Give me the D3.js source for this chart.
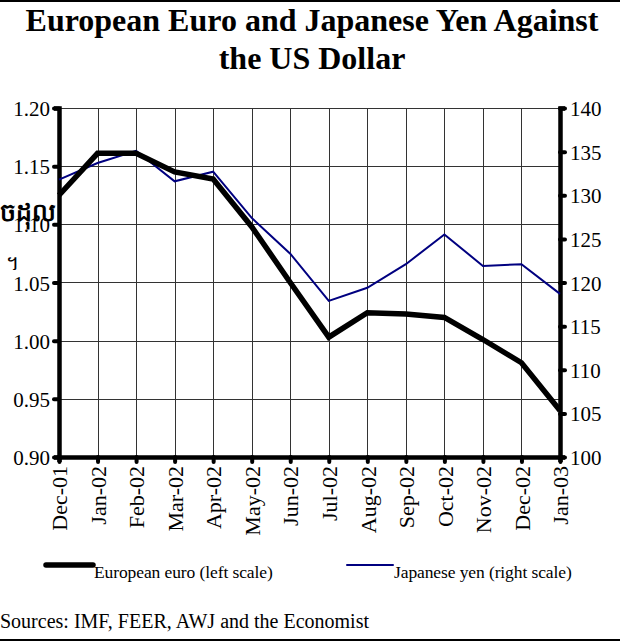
<!DOCTYPE html>
<html>
<head>
<meta charset="utf-8">
<script src="https://cdn.jsdelivr.net/npm/d3@7"></script>
<style>
  body { margin: 0; background: #fff; }
  svg { display: block; font-family: "Liberation Serif", "Times New Roman", serif; }
</style>
</head>
<body>
<svg id="chart" width="620" height="642"></svg>
<script>
// month labels
var months = ["Dec-01", "Jan-02", "Feb-02", "Mar-02", "Apr-02", "May-02", "Jun-02",
  "Jul-02", "Aug-02", "Sep-02", "Oct-02", "Nov-02", "Dec-02", "Jan-03"];
// euro in USD (left scale)
var euro = [1.125, 1.161, 1.161, 1.145, 1.139, 1.098, 1.050,
  1.003, 1.024, 1.023, 1.020, 1.001, 0.981, 0.940];
// yen per USD (right scale)
var yen = [131.8, 133.7, 135.1, 131.6, 132.7, 127.4, 123.3,
  117.9, 119.4, 122.1, 125.5, 121.9, 122.1, 118.7];
var leftTicks = [0.90, 0.95, 1.00, 1.05, 1.10, 1.15, 1.20];
var rightTicks = [100, 105, 110, 115, 120, 125, 130, 135, 140];

var svg = d3.select("#chart");
var plotLeft = 59, plotRight = 560, plotTop = 108, plotBottom = 457;

var x = d3.scalePoint().domain(months).range([plotLeft, plotRight]);
var yL = d3.scaleLinear().domain([0.90, 1.20]).range([plotBottom, plotTop]);
var yR = d3.scaleLinear().domain([100, 140]).range([plotBottom, plotTop]);

// frame lines top and bottom
svg.append("line").attr("x1", 0).attr("x2", 620).attr("y1", 1).attr("y2", 1)
  .attr("stroke", "#000").attr("stroke-width", 2);
svg.append("line").attr("x1", 0).attr("x2", 620).attr("y1", 640).attr("y2", 640)
  .attr("stroke", "#000").attr("stroke-width", 2);

// title
var title = svg.append("text").attr("text-anchor", "middle")
  .attr("font-weight", "bold").attr("font-size", 32);
title.append("tspan").attr("x", 312).attr("y", 31).text("European Euro and Japanese Yen Against");
title.append("tspan").attr("x", 312).attr("y", 69).text("the US Dollar");

// grid
svg.append("g").selectAll("line").data(leftTicks).enter().append("line")
  .attr("x1", plotLeft).attr("x2", plotRight)
  .attr("y1", function (d) { return Math.round(yL(d)) + 0.5; })
  .attr("y2", function (d) { return Math.round(yL(d)) + 0.5; })
  .attr("stroke", "#333").attr("stroke-width", 1);
svg.append("g").selectAll("line").data(months).enter().append("line")
  .attr("x1", function (d) { return Math.round(x(d)) + 0.5; })
  .attr("x2", function (d) { return Math.round(x(d)) + 0.5; })
  .attr("y1", plotTop).attr("y2", plotBottom)
  .attr("stroke", "#333").attr("stroke-width", 1);

// left axis
var gL = svg.append("g").attr("transform", "translate(" + plotLeft + ",0)")
  .call(d3.axisLeft(yL).tickValues(leftTicks).tickFormat(d3.format(".2f")).tickSize(5).tickPadding(4));
// right axis
var gR = svg.append("g").attr("transform", "translate(" + plotRight + ",0)")
  .call(d3.axisRight(yR).tickValues(rightTicks).tickSize(5).tickPadding(5));
// bottom axis
var gB = svg.append("g").attr("transform", "translate(0," + plotBottom + ")")
  .call(d3.axisBottom(x).tickSize(5).tickPadding(6));

[gL, gR, gB].forEach(function (g) {
  g.select(".domain").attr("stroke", "#000").attr("stroke-width", 4.5);
  g.selectAll(".tick line").attr("stroke", "#000").attr("stroke-width", 4)
    .attr("stroke-linecap", "round");
  g.selectAll(".tick text").attr("fill", "#000").attr("font-size", 21)
    .attr("font-family", "Liberation Serif, serif");
});
gL.selectAll(".tick text").attr("dy", "0.36em");
gR.selectAll(".tick text").attr("dy", "0.36em");
gB.selectAll(".tick text")
  .attr("font-size", 22)
  .attr("transform", "rotate(-90)")
  .attr("text-anchor", "end")
  .attr("x", -9).attr("y", 0).attr("dy", "0.35em");

// left axis title fragments
svg.append("text").attr("x", 0).attr("y", 221).attr("font-size", 25)
  .attr("font-weight", "bold").text("ចដុល");
svg.append("text").attr("x", 6).attr("y", 270).attr("font-size", 20).text("។");

// lines
var lineL = d3.line().x(function (d, i) { return x(months[i]); }).y(function (d) { return yL(d); });
var lineR = d3.line().x(function (d, i) { return x(months[i]); }).y(function (d) { return yR(d); });

svg.append("path").datum(yen).attr("d", lineR)
  .attr("fill", "none").attr("stroke", "#000080").attr("stroke-width", 2);
svg.append("path").datum(euro).attr("d", lineL)
  .attr("fill", "none").attr("stroke", "#000").attr("stroke-width", 5.5)
  .attr("stroke-linejoin", "miter");

// legend
var legend = [
  { label: "European euro (left scale)", color: "#000", w: 5.5, x1: 46, x2: 93 },
  { label: "Japanese yen (right scale)", color: "#000080", w: 2, x1: 347, x2: 393 }
];
var lg = svg.append("g").selectAll("g").data(legend).enter().append("g");
lg.append("line")
  .attr("x1", function (d) { return d.x1; }).attr("x2", function (d) { return d.x2; })
  .attr("y1", 565).attr("y2", 565)
  .attr("stroke", function (d) { return d.color; })
  .attr("stroke-width", function (d) { return d.w; })
  .attr("stroke-linecap", "round");
lg.append("text")
  .attr("x", function (d) { return d.x2 + 1; }).attr("y", 578)
  .attr("font-size", 17.5).attr("letter-spacing", -0.1)
  .text(function (d) { return d.label; });

// source
svg.append("text").attr("x", 0).attr("y", 628).attr("font-size", 20)
  .text("Sources: IMF, FEER, AWJ and the Economist");
</script>
</body>
</html>
